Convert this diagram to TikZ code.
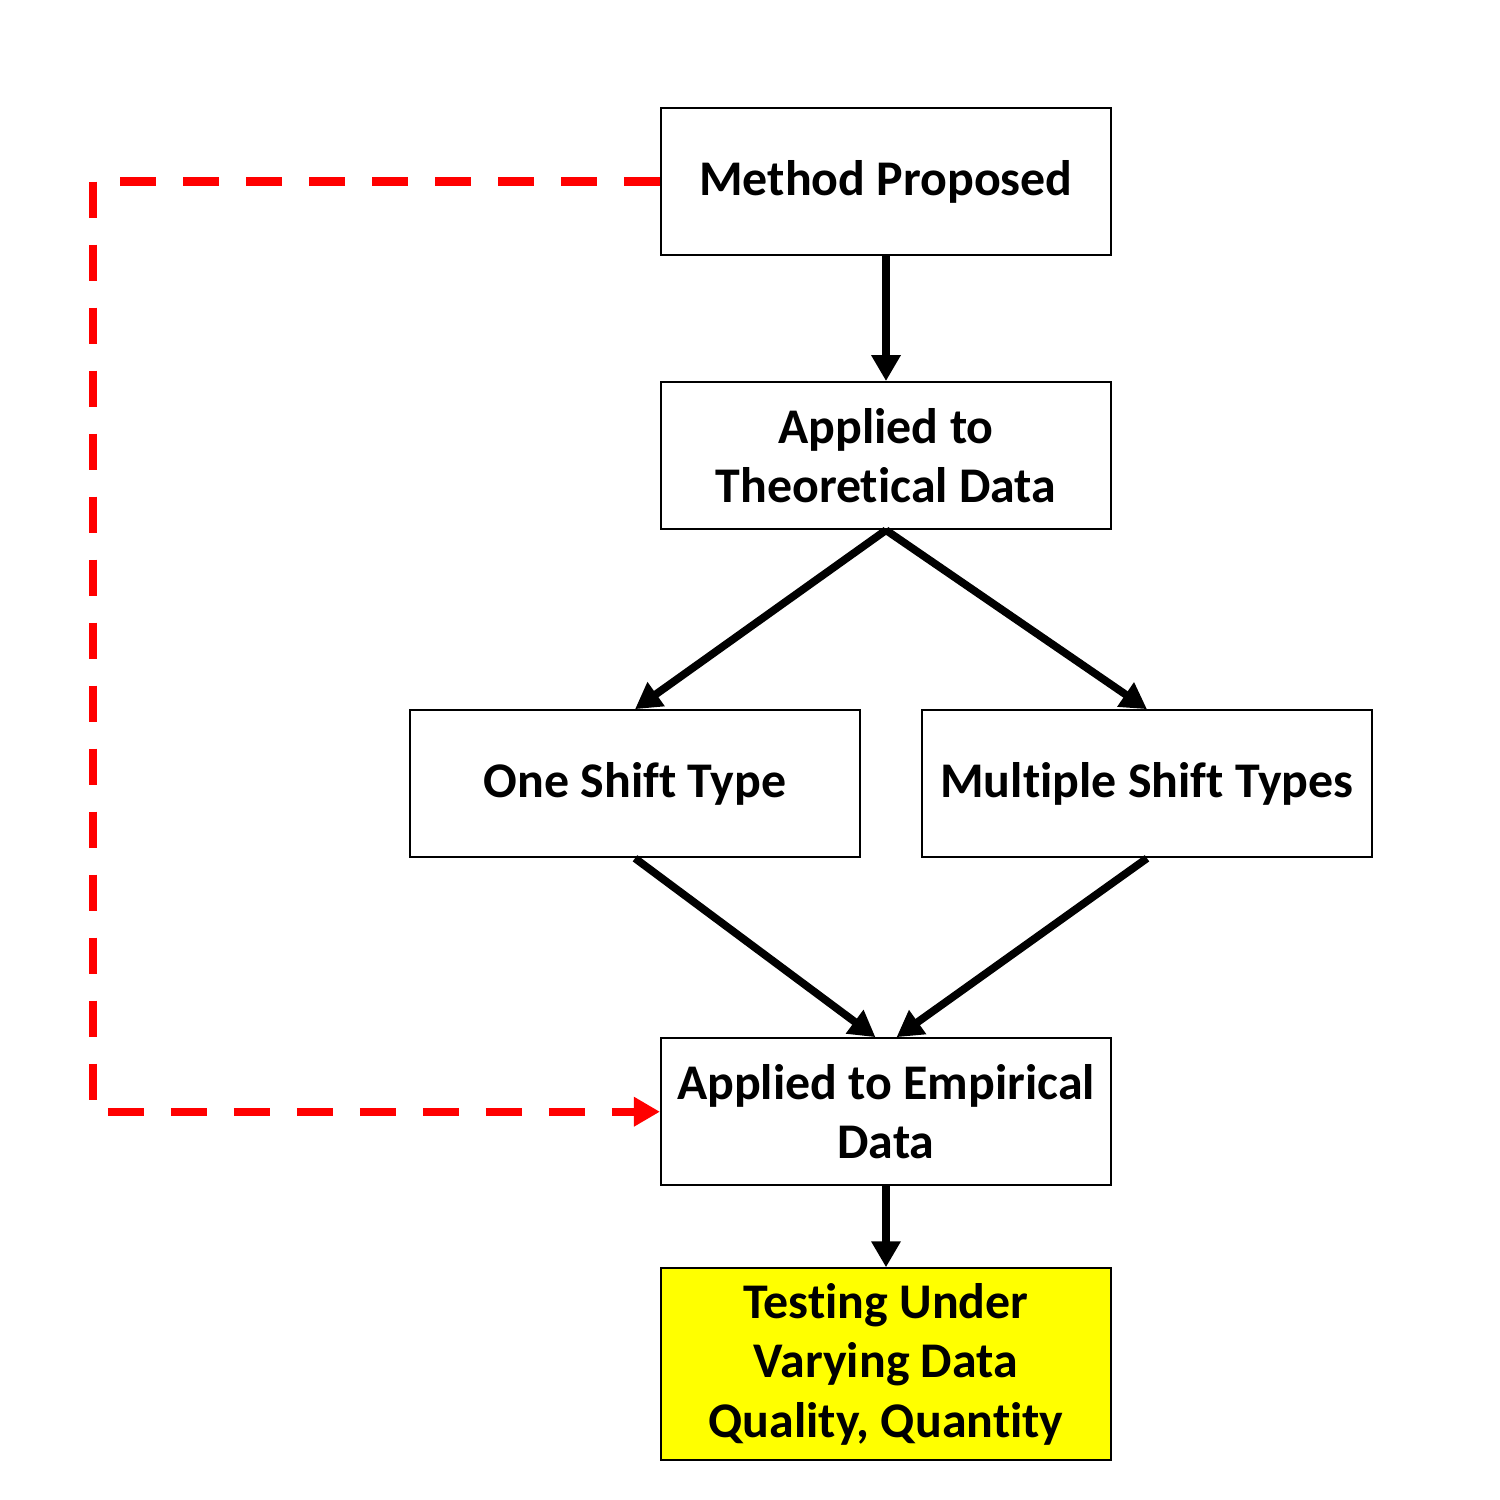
\documentclass[tikz,border=0pt]{standalone}
\usepackage{fontspec}
\setmainfont{Carlito}[Ligatures=NoCommon]
\usepackage{tikz}
\usetikzlibrary{arrows.meta}
\usetikzlibrary{positioning}
\definecolor{hilite}{RGB}{255,255,0}
\tikzset{
    stage/.style = {draw,line width=0.6pt,minimum width=4.5cm,minimum height=1.47cm,
        text width=4.4cm,align=flush center,inner sep=0,
        font=\fontsize{14.2}{17}\selectfont\bfseries},
    flow/.style = {line width=2.2pt,-{Triangle[length=2.6mm,width=2.8mm]}},
    feedback/.style = {red,line width=2.4pt,dash pattern=on 0.36cm off 0.27cm,
        -{Triangle[length=2.6mm,width=2.8mm]}}
}
\begin{document}
\begin{tikzpicture}
        \useasboundingbox (0,0) rectangle (15,-15);
        % Stages
        \node[stage] (mp) at (8.86,-1.815) {Method Proposed};
        \node[stage,below=1.25 of mp] (atd) {Applied to\\Theoretical Data};
        \node[stage,below=1.79 of atd,xshift=-2.51cm] (one) {One Shift Type};
        \node[stage,below=1.79 of atd,xshift=2.61cm] (multi) {Multiple Shift Types};
        \node[stage,below=5.07 of atd] (emp) {Applied to Empirical\\Data};
        \node[stage,fill=hilite,minimum height=1.92cm,below=0.81 of emp] (test)
            {Testing Under\\Varying Data\\Quality, Quantity};
        % Flow
        \foreach \src/\dest in {mp/atd,atd/one,atd/multi,emp/test}
            \draw[flow] (\src.south) to (\dest.north);
        \draw[flow] (one.south) to ([xshift=-3pt]emp.north);
        \draw[flow] (multi.south) to ([xshift=3pt]emp.north);
        % Feedback loop
        \coordinate (back) at (0.93,-1.815);
        \draw[feedback] (mp.west) -- (back) |- (emp.west);
\end{tikzpicture}
\end{document}
